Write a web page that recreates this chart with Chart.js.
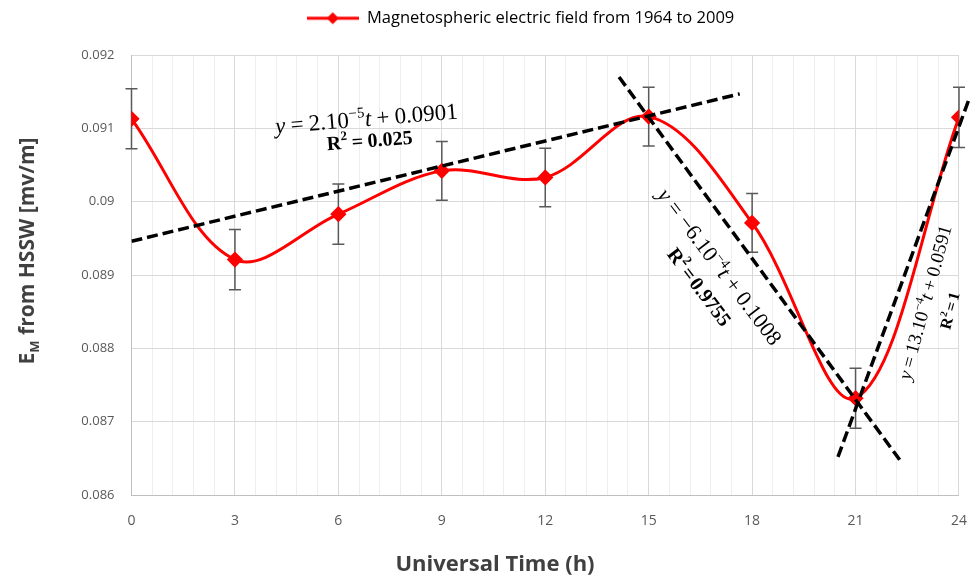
<!DOCTYPE html>
<html>
<head>
<meta charset="utf-8">
<script src="https://cdn.jsdelivr.net/npm/chart.js@4.4.1/dist/chart.umd.min.js"></script>
<style>
  html, body { margin: 0; padding: 0; background: #fff; overflow: hidden; }
  #wrap { width: 970px; height: 575px; position: relative; }
  #chart { display: block; }
</style>
</head>
<body>
<div id="wrap"><canvas id="chart"></canvas></div>
<script>
// --- Data ---
const hours = [0, 3, 6, 9, 12, 15, 18, 21, 24];
const emField = [0.09113, 0.08921, 0.08983, 0.09042, 0.09033, 0.09116, 0.08971, 0.08732, 0.09115];
const emError = [0.00041, 0.00041, 0.00041, 0.00040, 0.00040, 0.00040, 0.00040, 0.00041, 0.00041];

// linear fits (end points of the dashed lines)
const fitDayT = [0, 17.64];
const fitDayY = [0.08946, 0.09147];
const fitDuskT = [14.14, 22.28];
const fitDuskY = [0.09170, 0.08648];
const fitDawnT = [20.49, 24.3];
const fitDawnY = [0.08652, 0.09141];

const legendText = 'Magnetospheric electric field from 1964 to 2009';
const xTitle = 'Universal Time (h)';

const toPoints = (xs, ys) => xs.map((x, i) => ({ x: x, y: ys[i] }));

// --- fonts ---
const serif = s => `${s}px "Liberation Serif", "DejaVu Serif", serif`;
const serifI = s => `italic ${s}px "Liberation Serif", "DejaVu Serif", serif`;
const serifB = s => `bold ${s}px "Liberation Serif", "DejaVu Serif", serif`;
const sansB = s => `bold ${s}px "Open Sans", "Liberation Sans", sans-serif`;

// draw a run of text pieces, centred on (cx, cy baseline), rotated by deg.
// gaps stretch so the whole line is about `target` px long
function drawRich(ctx, cx, cy, deg, runs, target, color) {
    ctx.save();
    ctx.translate(cx, cy);
    ctx.rotate(deg * Math.PI / 180);
    ctx.textBaseline = 'alphabetic';
    ctx.fillStyle = color || '#000';
    let w = 0, nGaps = 0;
    runs.forEach(r => {
        if (r.gap) { nGaps++; return; }
        ctx.font = r.font;
        w += ctx.measureText(r.text).width;
    });
    let gap = 3;
    if (target && nGaps) gap = Math.max(2, (target - w) / nGaps);
    const total = w + gap * nGaps;
    let x = -total / 2;
    runs.forEach(r => {
        if (r.gap) { x += gap; return; }
        ctx.font = r.font;
        ctx.fillText(r.text, x, r.dy || 0);
        x += ctx.measureText(r.text).width;
    });
    ctx.restore();
}

const G = { gap: true };

function equation(size, coef, exp, intercept) {
    return [
        { text: 'y', font: serifI(size) }, G,
        { text: '=', font: serif(size) }, G,
        { text: coef, font: serif(size) },
        { text: exp, font: serif(Math.round(size * 0.65)), dy: -Math.round(size * 0.4) },
        { text: 't', font: serifI(size) }, G,
        { text: '+', font: serif(size) }, G,
        { text: intercept, font: serif(size) }
    ];
}

function rSquared(size, val) {
    return [
        { text: 'R', font: serifB(size) },
        { text: '2', font: serifB(Math.round(size * 0.65)), dy: -Math.round(size * 0.45) }, G,
        { text: '=', font: serifB(size) }, G,
        { text: val, font: serifB(size) }
    ];
}

// legend icon: red line with a diamond
const legendIcon = document.createElement('canvas');
legendIcon.width = 52; legendIcon.height = 14;
(() => {
    const c = legendIcon.getContext('2d');
    c.strokeStyle = '#ff0000'; c.lineWidth = 3;
    c.beginPath(); c.moveTo(0, 7); c.lineTo(52, 7); c.stroke();
    c.fillStyle = '#ff0000';
    c.beginPath(); c.moveTo(26, 1); c.lineTo(32, 7); c.lineTo(26, 13); c.lineTo(20, 7); c.closePath(); c.fill();
})();

const isMajor = v => Math.abs(v / 3 - Math.round(v / 3)) < 1e-6;

// error bars under the red line
const errorBars = {
    id: 'errorBars',
    beforeDatasetsDraw(chart) {
        const { ctx, scales: { x, y } } = chart;
        ctx.save();
        ctx.strokeStyle = '#595959';
        ctx.lineWidth = 1.5;
        hours.forEach((h, i) => {
            const px = x.getPixelForValue(h);
            const top = y.getPixelForValue(emField[i] + emError[i]);
            const bot = y.getPixelForValue(emField[i] - emError[i]);
            ctx.beginPath();
            ctx.moveTo(px, top); ctx.lineTo(px, bot);
            ctx.moveTo(px - 6, top); ctx.lineTo(px + 6, top);
            ctx.moveTo(px - 6, bot); ctx.lineTo(px + 6, bot);
            ctx.stroke();
        });
        ctx.restore();
    }
};

// axis titles and the fit equations
const annotations = {
    id: 'annotations',
    afterDraw(chart) {
        const ctx = chart.ctx;
        // axis titles
        ctx.save();
        ctx.fillStyle = '#404040';
        ctx.textAlign = 'center';
        ctx.textBaseline = 'alphabetic';
        ctx.font = sansB(22);
        ctx.fillText(xTitle, 495, 571);
        ctx.restore();
        drawRich(ctx, 34, 251, -90, [
            { text: 'E', font: sansB(21) },
            { text: 'M', font: sansB(13), dy: 5 },
            { text: ' from HSSW [mv/m]', font: sansB(21) }
        ], 0, '#404040');

        // fit equations
        drawRich(ctx, 367, 126, -4.7, equation(23, '2.10', '\u22125', '0.0901'), 183);
        drawRich(ctx, 370, 147, -4.5, rSquared(20, '0.025'), 86);

        drawRich(ctx, 714, 271, 52.8, equation(22, '\u22126.10', '\u22124', '0.1008'), 190);
        drawRich(ctx, 694, 291, 52.8, rSquared(20, '0.9755'), 92);

        drawRich(ctx, 931, 304, -74.8, equation(19, '13.10', '\u22124', '0.0591'), 159);
        drawRich(ctx, 955, 312, -74.8, rSquared(16, '1'), 36);
    }
};

// legend box height fixed so the plot starts where the original does,
// and the legend nudged to sit where it sits in the figure
const legendPlace = {
    id: 'legendPlace',
    beforeInit(chart) {
        const fit = chart.legend.fit;
        chart.legend.fit = function () {
            fit.bind(chart.legend)();
            this.height = 55;
        };
    },
    afterLayout(chart) {
        chart.legend.left += 3;
        chart.legend.right += 3;
    }
};

const fitLine = (xs, ys, extra) => Object.assign({
    data: toPoints(xs, ys),
    borderColor: '#000000',
    borderWidth: 3.5,
    borderDash: [11, 5],
    pointRadius: 0,
    tension: 0,
    order: 1
}, extra || {});

new Chart(document.getElementById('chart'), {
    type: 'line',
    data: {
        datasets: [
            {
                label: legendText,
                data: toPoints(hours, emField),
                borderColor: '#ff0000',
                backgroundColor: '#ff0000',
                borderWidth: 3,
                pointStyle: 'rectRot',
                pointRadius: 6,
                pointBackgroundColor: '#ff0000',
                pointBorderColor: '#ff0000',
                tension: 0.35,
                order: 2
            },
            fitLine(fitDayT, fitDayY),
            fitLine(fitDuskT, fitDuskY),
            fitLine(fitDawnT, fitDawnY, { clip: false })
        ]
    },
    options: {
        responsive: true,
        maintainAspectRatio: false,
        animation: false,
        layout: { padding: { left: 75, right: 10, top: 0, bottom: 0 } },
        plugins: {
            tooltip: { enabled: false },
            legend: {
                position: 'top',
                labels: {
                    usePointStyle: true,
                    pointStyleWidth: 52,
                    color: '#404040',
                    font: { family: '"Open Sans", "Liberation Sans", sans-serif', size: 16.5 },
                    generateLabels: () => [{
                        text: legendText,
                        pointStyle: legendIcon,
                        fillStyle: '#ff0000',
                        strokeStyle: '#ff0000',
                        lineWidth: 0,
                        hidden: false,
                        datasetIndex: 0
                    }]
                }
            }
        },
        scales: {
            x: {
                type: 'linear',
                min: 0,
                max: 24,
                border: { color: '#bfbfbf', width: 1 },
                grid: {
                    drawTicks: true,
                    tickLength: 15,
                    tickColor: 'rgba(0,0,0,0)',
                    color: c => isMajor(c.tick.value) ? '#d9d9d9' : '#eeeeee'
                },
                ticks: {
                    stepSize: 0.6,
                    autoSkip: false,
                    maxRotation: 0,
                    padding: 3,
                    color: '#595959',
                    font: { family: '"Open Sans", "Liberation Sans", sans-serif', size: 14 },
                    callback: v => isMajor(v) ? String(Math.round(v)) : ''
                },
                afterFit: s => { s.height = 80; }
            },
            y: {
                min: 0.086,
                max: 0.092,
                border: { color: '#bfbfbf', width: 1 },
                grid: {
                    drawTicks: true,
                    tickLength: 14,
                    tickColor: 'rgba(0,0,0,0)',
                    color: '#d9d9d9'
                },
                ticks: {
                    stepSize: 0.001,
                    padding: 3,
                    color: '#595959',
                    font: { family: '"Open Sans", "Liberation Sans", sans-serif', size: 13 },
                    callback: v => String(+v.toFixed(3))
                },
                afterFit: s => { s.width = 56.5; }
            }
        }
    },
    plugins: [errorBars, annotations, legendPlace]
});
</script>
</body>
</html>
